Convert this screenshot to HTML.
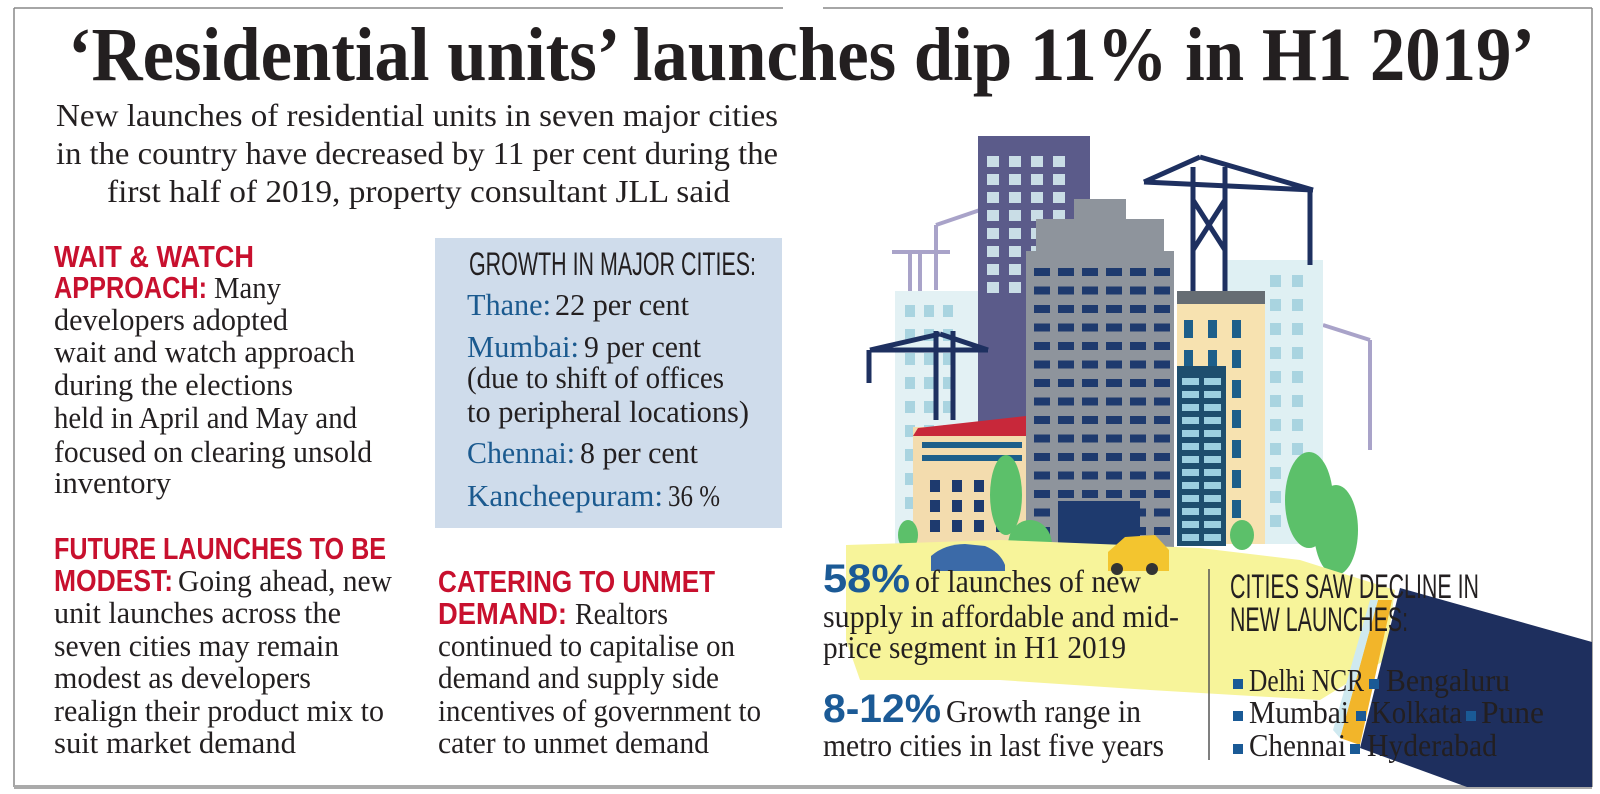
<!DOCTYPE html>
<html><head><meta charset="utf-8"><style>
html,body{margin:0;padding:0;background:#fff;}
svg{display:block;}
.s{font-family:"Liberation Serif",serif;fill:#231f20;}
.h{font-family:"Liberation Sans Narrow","Liberation Sans",sans-serif;font-weight:bold;fill:#c8102e;}
.c{font-family:"Liberation Sans Narrow","Liberation Sans",sans-serif;fill:#231f20;}
.b{font-family:"Liberation Serif",serif;fill:#1b5a8f;}
.p{font-family:"Liberation Sans",sans-serif;font-weight:bold;fill:#1b5a96;}
</style></head><body>
<svg width="1600" height="794" viewBox="0 0 1600 794" xmlns="http://www.w3.org/2000/svg">
<g stroke="#888" fill="none">
<line x1="14" y1="8" x2="783" y2="8" stroke-width="1.5"/>
<line x1="823" y1="8" x2="1592" y2="8" stroke-width="1.5"/>
<line x1="14" y1="8" x2="14" y2="787" stroke-width="1.5"/>
<line x1="1592" y1="8" x2="1592" y2="787" stroke-width="1.5"/>
<line x1="14" y1="787" x2="1592" y2="787" stroke="#aaa" stroke-width="4"/>
</g>

<g>
<g stroke="#a9a3c9" stroke-width="4" fill="none">
<line x1="936" y1="225" x2="980" y2="210"/><line x1="936" y1="225" x2="936" y2="290"/>
<line x1="892" y1="252" x2="950" y2="252"/><line x1="910" y1="252" x2="910" y2="292"/><line x1="920" y1="252" x2="920" y2="292"/>
<line x1="1323" y1="325" x2="1370" y2="340"/><line x1="1370" y1="340" x2="1370" y2="450"/>
</g>
<rect x="895" y="291" width="120" height="253" fill="#e3f1f4"/>
<g fill="#a9d4e0" id="lw"></g>
<rect x="1225" y="260" width="98" height="284" fill="#dff0f3"/>
<g fill="#a9d4e0" id="rw"></g>
<rect x="978" y="136" width="112" height="408" fill="#5b5b8a"/>
<g fill="#c9dde6" id="pw"></g>
<rect x="1074" y="199" width="52" height="25" fill="#8e949c"/>
<rect x="1036" y="219" width="128" height="35" fill="#8e949c"/>
<rect x="1026" y="251" width="148" height="296" fill="#8e949c"/>
<g fill="#1e3a6e" id="gw"></g>
<rect x="1058" y="501" width="82" height="46" fill="#1e3a6e"/>
<rect x="1177" y="291" width="88" height="253" fill="#f7e2b0"/>
<rect x="1177" y="291" width="88" height="13" fill="#666d73"/>
<g fill="#1e5f8a" id="bw"></g>
<rect x="1177" y="366" width="49" height="180" fill="#1e4e6e"/>
<g fill="#9ccfe0" id="tw"></g>
<rect x="913" y="427" width="113" height="117" fill="#f3dcae"/>
<polygon points="918,428 1026,416 1026,436 913,436" fill="#c8283a"/>
<rect x="922" y="442" width="100" height="6" fill="#1e5f8a"/>
<rect x="922" y="455" width="100" height="6" fill="#1e5f8a"/>
<g fill="#1e3a6e" id="sw"></g>
<g stroke="#1e3060" stroke-width="5" fill="none">
<line x1="1193" y1="167" x2="1193" y2="291"/><line x1="1225" y1="167" x2="1225" y2="291"/>
<line x1="1193" y1="200" x2="1225" y2="250"/><line x1="1225" y1="200" x2="1193" y2="250"/>
<line x1="1144" y1="182" x2="1313" y2="190"/><line x1="1144" y1="182" x2="1200" y2="157"/><line x1="1200" y1="157" x2="1313" y2="190"/>
<line x1="1310" y1="190" x2="1310" y2="265"/>
<line x1="936" y1="331" x2="936" y2="420"/><line x1="953" y1="331" x2="953" y2="420"/>
<line x1="870" y1="350" x2="988" y2="350"/><line x1="870" y1="350" x2="940" y2="334"/><line x1="940" y1="334" x2="988" y2="350"/>
<line x1="869" y1="350" x2="869" y2="383"/>
</g>
<g fill="#5cc06a">
<ellipse cx="1006" cy="495" rx="16" ry="40"/>
<ellipse cx="1309" cy="500" rx="24" ry="48"/>
<ellipse cx="1336" cy="530" rx="22" ry="45"/>
<ellipse cx="908" cy="535" rx="10" ry="15"/>
<ellipse cx="1242" cy="535" rx="12" ry="15"/>
<ellipse cx="1030" cy="545" rx="22" ry="25"/>
<ellipse cx="966" cy="565" rx="20" ry="18"/>
</g>
<polygon points="846,545 1000,540 1200,548 1300,560 1395,590 1385,660 1320,700 1150,690 1000,680 860,680 846,640" fill="#f7f49a"/>
<polygon points="1378,600 1392,600 1360,745 1340,738" fill="#f2b52a"/>
<polygon points="1370,600 1378,600 1340,738 1333,730" fill="#cfe9f0"/>
<path d="M931,571 L931,556 Q945,544 965,544 L985,546 Q1000,552 1005,565 L1005,571 Z" fill="#3b6aa8"/>
<path d="M1108,571 L1108,552 L1125,537 L1155,535 L1169,550 L1169,571 Z" fill="#f3c52f"/>
<circle cx="1117" cy="569" r="6" fill="#333"/><circle cx="1152" cy="569" r="6" fill="#333"/>
<polygon points="1400,588 1592,642 1592,787 1467,787 1360,748" fill="#1e2f5e"/>
</g>

<text class="s" x="68" y="80" font-size="76" font-weight="bold" textLength="1467" lengthAdjust="spacingAndGlyphs">‘Residential units’ launches dip 11% in H1 2019’</text>

<g class="s" font-size="32" font-weight="bold">
<text x="56" y="126" textLength="722" lengthAdjust="spacingAndGlyphs" font-weight="normal">New launches of residential units in seven major cities</text>
<text x="56" y="164" textLength="722" lengthAdjust="spacingAndGlyphs" font-weight="normal">in the country have decreased by 11 per cent during the</text>
<text x="107" y="202" textLength="623" lengthAdjust="spacingAndGlyphs" font-weight="normal">first half of 2019,  property consultant JLL said</text>
</g>

<g font-size="31">
<text class="h" x="54" y="267" textLength="200" lengthAdjust="spacingAndGlyphs">WAIT &amp; WATCH</text>
<text class="h" x="54" y="298" textLength="153" lengthAdjust="spacingAndGlyphs">APPROACH:</text>
<text class="s" x="214" y="298" textLength="67" lengthAdjust="spacingAndGlyphs">Many</text>
<text class="s" x="54" y="330" textLength="234" lengthAdjust="spacingAndGlyphs">developers adopted</text>
<text class="s" x="54" y="362" textLength="301" lengthAdjust="spacingAndGlyphs">wait and watch approach</text>
<text class="s" x="54" y="395" textLength="239" lengthAdjust="spacingAndGlyphs">during the elections</text>
<text class="s" x="54" y="428" textLength="303" lengthAdjust="spacingAndGlyphs">held in April and May and</text>
<text class="s" x="54" y="462" textLength="318" lengthAdjust="spacingAndGlyphs">focused on clearing unsold</text>
<text class="s" x="54" y="493" textLength="117" lengthAdjust="spacingAndGlyphs">inventory</text>
</g>

<g font-size="31">
<text class="h" x="54" y="559" textLength="332" lengthAdjust="spacingAndGlyphs">FUTURE LAUNCHES TO BE</text>
<text class="h" x="54" y="591" textLength="119" lengthAdjust="spacingAndGlyphs">MODEST:</text>
<text class="s" x="178" y="591" textLength="214" lengthAdjust="spacingAndGlyphs">Going ahead, new</text>
<text class="s" x="54" y="623" textLength="287" lengthAdjust="spacingAndGlyphs">unit launches across the</text>
<text class="s" x="54" y="656" textLength="285" lengthAdjust="spacingAndGlyphs">seven cities may remain</text>
<text class="s" x="54" y="688" textLength="257" lengthAdjust="spacingAndGlyphs">modest as developers</text>
<text class="s" x="54" y="721" textLength="330" lengthAdjust="spacingAndGlyphs">realign their product mix to</text>
<text class="s" x="54" y="753" textLength="242" lengthAdjust="spacingAndGlyphs">suit market demand</text>
</g>

<g>
<rect x="435" y="238" width="347" height="290" fill="#cfdceb"/>
<text class="c" x="469" y="275" font-size="32" textLength="287" lengthAdjust="spacingAndGlyphs">GROWTH IN MAJOR CITIES:</text>
<g font-size="31">
<text class="b" x="467" y="315" textLength="84" lengthAdjust="spacingAndGlyphs">Thane:</text>
<text class="s" x="555" y="315" textLength="134" lengthAdjust="spacingAndGlyphs">22 per cent</text>
<text class="b" x="467" y="357" textLength="112" lengthAdjust="spacingAndGlyphs">Mumbai:</text>
<text class="s" x="584" y="357" textLength="117" lengthAdjust="spacingAndGlyphs">9 per cent</text>
<text class="s" x="467" y="388" textLength="257" lengthAdjust="spacingAndGlyphs">(due to shift of offices</text>
<text class="s" x="467" y="422" textLength="282" lengthAdjust="spacingAndGlyphs">to peripheral locations)</text>
<text class="b" x="467" y="463" textLength="108" lengthAdjust="spacingAndGlyphs">Chennai:</text>
<text class="s" x="580" y="463" textLength="118" lengthAdjust="spacingAndGlyphs">8 per cent</text>
<text class="b" x="467" y="506" textLength="196" lengthAdjust="spacingAndGlyphs">Kancheepuram:</text>
<text class="s" x="668" y="506" textLength="52" lengthAdjust="spacingAndGlyphs">36 %</text>
</g>
</g>

<g font-size="31">
<text class="h" x="438" y="592" textLength="277" lengthAdjust="spacingAndGlyphs">CATERING TO UNMET</text>
<text class="h" x="438" y="624" textLength="129" lengthAdjust="spacingAndGlyphs">DEMAND:</text>
<text class="s" x="575" y="624" textLength="93" lengthAdjust="spacingAndGlyphs">Realtors</text>
<text class="s" x="438" y="656" textLength="297" lengthAdjust="spacingAndGlyphs">continued to capitalise on</text>
<text class="s" x="438" y="688" textLength="281" lengthAdjust="spacingAndGlyphs">demand and supply side</text>
<text class="s" x="438" y="721" textLength="323" lengthAdjust="spacingAndGlyphs">incentives of government to</text>
<text class="s" x="438" y="753" textLength="271" lengthAdjust="spacingAndGlyphs">cater to unmet demand</text>
</g>

<g font-size="32">
<text class="p" x="823" y="592" font-size="40" textLength="87" lengthAdjust="spacingAndGlyphs">58%</text>
<text class="s" x="915" y="592" textLength="226" lengthAdjust="spacingAndGlyphs">of launches of new</text>
<text class="s" x="823" y="627" textLength="356" lengthAdjust="spacingAndGlyphs">supply in affordable and mid-</text>
<text class="s" x="823" y="658" textLength="303" lengthAdjust="spacingAndGlyphs">price segment in H1 2019</text>
<text class="p" x="823" y="722" font-size="40" textLength="118" lengthAdjust="spacingAndGlyphs">8-12%</text>
<text class="s" x="946" y="722" textLength="195" lengthAdjust="spacingAndGlyphs">Growth range in</text>
<text class="s" x="823" y="756" textLength="341" lengthAdjust="spacingAndGlyphs">metro cities  in last five years</text>
</g>
<line x1="1209" y1="569" x2="1209" y2="760" stroke="#555" stroke-width="1.5"/>

<g>
<text class="c" x="1230" y="598" font-size="34" textLength="249" lengthAdjust="spacingAndGlyphs">CITIES SAW DECLINE IN</text>
<text class="c" x="1230" y="631" font-size="34" textLength="178" lengthAdjust="spacingAndGlyphs">NEW LAUNCHES:</text>
<g fill="#1a5a96">
<rect x="1233" y="679" width="10" height="10"/><rect x="1369" y="679" width="10" height="10"/>
<rect x="1233" y="711" width="10" height="10"/><rect x="1356" y="711" width="10" height="10"/><rect x="1466" y="711" width="10" height="10"/>
<rect x="1233" y="744" width="10" height="10"/><rect x="1350" y="744" width="10" height="10"/>
</g>
<g font-size="32">
<text class="s" x="1249" y="691" textLength="115" lengthAdjust="spacingAndGlyphs">Delhi NCR</text>
<text class="s" x="1386" y="691" textLength="124" lengthAdjust="spacingAndGlyphs">Bengaluru</text>
<text class="s" x="1249" y="723" textLength="100" lengthAdjust="spacingAndGlyphs">Mumbai</text>
<text class="s" x="1371" y="723" textLength="91" lengthAdjust="spacingAndGlyphs">Kolkata</text>
<text class="s" x="1481" y="723" textLength="63" lengthAdjust="spacingAndGlyphs">Pune</text>
<text class="s" x="1249" y="756" textLength="97" lengthAdjust="spacingAndGlyphs">Chennai</text>
<text class="s" x="1367" y="756" textLength="130" lengthAdjust="spacingAndGlyphs">Hyderabad</text>
</g>
</g>
</svg>
<script>
var NS='http://www.w3.org/2000/svg';
function grid(id,x0,y0,cols,rows,dx,dy,w,h){
  var g=document.getElementById(id);
  for(var r=0;r<rows;r++)for(var c=0;c<cols;c++){
    var e=document.createElementNS(NS,'rect');
    e.setAttribute('x',x0+c*dx);e.setAttribute('y',y0+r*dy);
    e.setAttribute('width',w);e.setAttribute('height',h);
    
    
    g.appendChild(e);
  }
}
grid('lw',905,305,3,10,19,24,10,12);
grid('rw',1270,275,2,11,22,24,11,12);
grid('pw',987,156,4,8,22,18,12,11);
grid('gw',1034,268,6,15,24,18.5,16,8);
grid('bw',1184,320,3,7,24,30,9,18);
grid('tw',1182,378,2,13,22,13,17,7);
grid('sw',930,480,4,3,22,20,10,12);
</script>
</body></html>
